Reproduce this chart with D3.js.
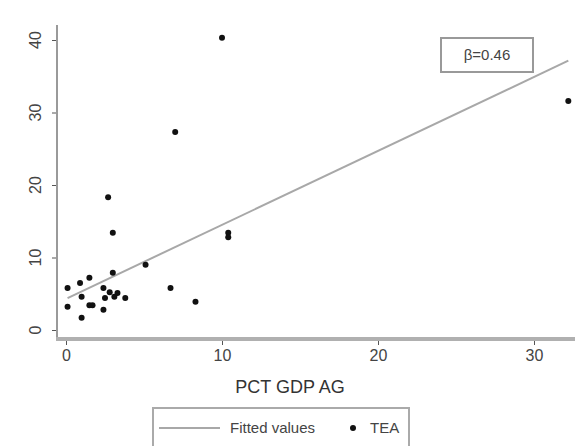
<!DOCTYPE html>
<html>
<head>
<meta charset="utf-8">
<script src="https://cdn.jsdelivr.net/npm/d3@7"></script>
<style>
  body { margin: 0; background: #fff; }
  text { font-family: "Liberation Sans", Arial, sans-serif; }
</style>
</head>
<body>
<svg id="chart"></svg>
<script>
'use strict'

// TEA vs PCT GDP AG
var pctGdpAg = [3.0, 1.5, 0.1, 0.9, 2.4, 2.8, 3.3, 3.8, 2.5, 3.1, 1.0, 1.5, 1.7, 0.1, 2.4, 1.0,
	2.7, 3.0, 5.1, 6.7, 8.3, 10.0, 7.0, 10.4, 10.4, 32.2];
var tea = [7.9, 7.2, 5.8, 6.5, 5.8, 5.2, 5.1, 4.4, 4.4, 4.6, 4.6, 3.4, 3.4, 3.2, 2.8, 1.7,
	18.3, 13.4, 9.0, 5.8, 3.9, 40.3, 27.3, 13.4, 12.8, 31.6];

// fitted line (intercept, slope) and its x span
var fitCoef = [4.3, 1.02];
var fitRange = [0.1, 32.2];

var xTicks = [0, 10, 20, 30];
var yTicks = [0, 10, 20, 30, 40];
var betaLabel = "\u03B2=0.46";
var legendLabels = ["Fitted values", "TEA"];

var Main = function () {

	var WIDTH = 575,
		HEIGHT = 446;

	var axisColor = "#9a9a9a",
		textColor = "#444";

	this.initialize = function () {

		var svg = d3.select("#chart")
			.attr("width", WIDTH)
			.attr("height", HEIGHT)

		var x = d3.scaleLinear().domain([0, 30]).range([66, 534]);
		var y = d3.scaleLinear().domain([0, 40]).range([330, 40]);

		var left = 57, bottom = 339, top = 25, right = WIDTH;

		// axis lines
		svg.append("line")
			.attr("x1", left).attr("x2", left)
			.attr("y1", top).attr("y2", bottom + 2)
			.style("stroke", axisColor)
			.style("stroke-width", 2)

		svg.append("line")
			.attr("x1", left - 1).attr("x2", right)
			.attr("y1", bottom).attr("y2", bottom)
			.style("stroke", "#b0b0b0")
			.style("stroke-width", 4)

		// x axis
		var xAxis = svg.append("g")
			.attr("transform", "translate(0," + (bottom + 2) + ")")
			.call(d3.axisBottom(x).tickValues(xTicks).tickSize(4).tickPadding(5).tickFormat(d3.format("d")))

		xAxis.select(".domain").remove()
		xAxis.selectAll("line").style("stroke", "#555")
		xAxis.selectAll("text")
			.style("font-size", "16px")
			.style("fill", textColor)

		// y axis, rotated labels
		var yAxis = svg.append("g")
			.attr("transform", "translate(" + (left - 1) + ",0)")
			.call(d3.axisLeft(y).tickValues(yTicks).tickSize(4).tickFormat(""))

		yAxis.select(".domain").remove()
		yAxis.selectAll("line").style("stroke", "#555")

		svg.selectAll(".ylab")
			.data(yTicks)
			.enter()
			.append("text")
			.attr("class", "ylab")
			.attr("transform", function (d) { return "translate(41," + y(d) + ") rotate(-90)"; })
			.style("text-anchor", "middle")
			.style("font-size", "16px")
			.style("fill", textColor)
			.text(function (d) { return d; })

		// axis title
		svg.append("text")
			.attr("x", 290)
			.attr("y", 393)
			.style("text-anchor", "middle")
			.style("font-size", "18px")
			.style("fill", "#333")
			.text("PCT GDP AG")

		// fitted line
		var fitLine = d3.line()
			.x(function (d) { return x(d); })
			.y(function (d) { return y(fitCoef[0] + fitCoef[1] * d); });

		svg.append("path")
			.datum(fitRange)
			.attr("d", fitLine)
			.style("fill", "none")
			.style("stroke", "#a8a8a8")
			.style("stroke-width", 2)

		// points
		svg.selectAll(".pt")
			.data(pctGdpAg)
			.enter()
			.append("circle")
			.attr("class", "pt")
			.attr("cx", function (d) { return x(d); })
			.attr("cy", function (d, i) { return y(tea[i]); })
			.attr("r", 3)
			.style("fill", "#111")

		// beta box
		svg.append("rect")
			.attr("x", 441).attr("y", 38)
			.attr("width", 92).attr("height", 34)
			.style("fill", "#fff")
			.style("stroke", "#999")
			.style("stroke-width", 2)

		svg.append("text")
			.attr("x", 487).attr("y", 60)
			.style("text-anchor", "middle")
			.style("font-size", "15px")
			.style("fill", textColor)
			.text(betaLabel)

		// legend
		var legend = svg.append("g")

		legend.append("rect")
			.attr("x", 153).attr("y", 408)
			.attr("width", 256).attr("height", 40)
			.style("fill", "#fff")
			.style("stroke", "#aaa")
			.style("stroke-width", 2)

		legend.append("line")
			.attr("x1", 159).attr("x2", 220)
			.attr("y1", 428).attr("y2", 428)
			.style("stroke", "#a8a8a8")
			.style("stroke-width", 2)

		legend.append("text")
			.attr("x", 230).attr("y", 433)
			.style("font-size", "15px")
			.style("fill", textColor)
			.text(legendLabels[0])

		legend.append("circle")
			.attr("cx", 353).attr("cy", 428)
			.attr("r", 3)
			.style("fill", "#111")

		legend.append("text")
			.attr("x", 370).attr("y", 433)
			.style("font-size", "15px")
			.style("fill", textColor)
			.text(legendLabels[1])
	}
}

var main = new Main();
main.initialize();
</script>
</body>
</html>
